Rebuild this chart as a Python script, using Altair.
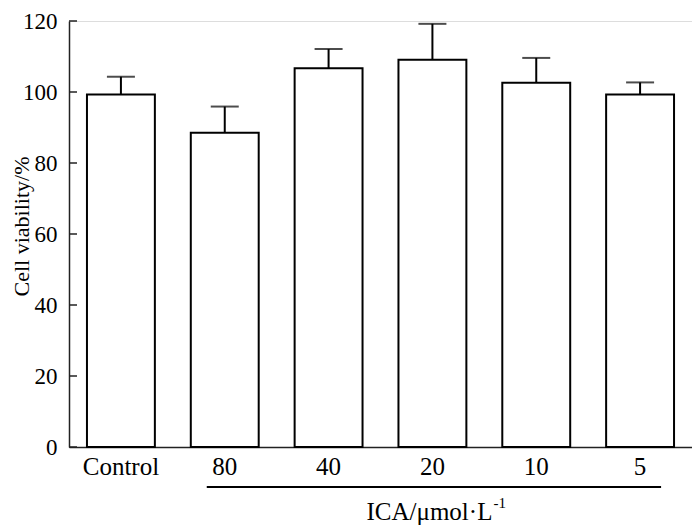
import altair as alt
import pandas as pd

categories = ["Control", "80", "40", "20", "10", "5"]
means = [99.3, 88.5, 106.7, 109.1, 102.6, 99.3]
errors = [5.0, 7.4, 5.4, 10.1, 7.0, 3.4]
y_ticks = [0, 20, 40, 60, 80, 100, 120]
bracket_from = ["80"]
bracket_to = ["5"]
title_anchor = ["20"]
x_title = ["ICA/μmol·L"]
x_title_sup = ["-1"]
y_title = "Cell viability/%"

df = pd.DataFrame({"group": categories, "mean": means, "err": errors})
df["upper"] = df["mean"] + df["err"]
ticks_df = pd.DataFrame({"t": y_ticks})
bracket_df = pd.DataFrame({"a": bracket_from, "b": bracket_to})
title_df = pd.DataFrame({"g": title_anchor, "txt": x_title, "sup": x_title_sup})

W, H = 623, 426
FONT = "Liberation Serif"
AX = "#222222"

xscale = alt.Scale(domain=categories, paddingInner=0.346, paddingOuter=0.173)


def xenc(field):
    return alt.X(field, type="nominal", sort=categories, scale=xscale, title=None)


yscale = alt.Scale(domain=[0, 120], nice=False)

bars = alt.Chart(df).mark_bar(fill="white", stroke="black", strokeWidth=2).encode(
    x=alt.X("group:N", sort=categories, scale=xscale, title=None,
            axis=alt.Axis(labelAngle=0, ticks=False, labelPadding=7, labelFontSize=25,
                          labelFont=FONT)),
    y=alt.Y("mean:Q", scale=yscale, title=y_title,
            axis=alt.Axis(values=y_ticks, ticks=False, labelPadding=12, labelFontSize=23,
                          labelFont=FONT,
                          titleX=-36, titleY=H / 2 - 8, titleBaseline="bottom",
                          titleAngle=270, titleAlign="center")),
)

err_rule = alt.Chart(df).mark_rule(color="black", strokeWidth=2).encode(
    x=xenc("group"),
    y=alt.Y("mean:Q", scale=yscale, title=y_title),
    y2="upper:Q",
)

caps = alt.Chart(df).mark_tick(color="black", thickness=2, size=28).encode(
    x=xenc("group"),
    y=alt.Y("upper:Q", scale=yscale, title=y_title),
)

yticks = alt.Chart(ticks_df).mark_rule(color=AX, strokeWidth=1.5).encode(
    y=alt.Y("t:Q", scale=yscale, title=y_title),
    x=alt.value(0),
    x2=alt.value(8),
)

bracket = alt.Chart(bracket_df).mark_rule(color="black", strokeWidth=2, xOffset=-18, x2Offset=21).encode(
    x=xenc("a"),
    x2="b:N",
    y=alt.value(H + 40),
)

title_main = alt.Chart(title_df).mark_text(
    align="right", baseline="alphabetic", font=FONT, fontSize=25, color="black", dx=60
).encode(x=xenc("g"), y=alt.value(H + 73), text="txt:N")

title_sup = alt.Chart(title_df).mark_text(
    align="left", baseline="alphabetic", font=FONT, fontSize=15, color="black", dx=61
).encode(x=xenc("g"), y=alt.value(H + 61), text="sup:N")

chart = alt.layer(bars, err_rule, caps, yticks, bracket, title_main, title_sup).properties(
    width=W,
    height=H,
    autosize=alt.AutoSizeParams(type="none"),
    padding={"left": 61, "top": 13, "right": 0, "bottom": 80},
).configure_view(stroke=None).configure(background="white", font=FONT).configure_axis(
    labelFont=FONT, titleFont=FONT, labelColor="black", titleColor="black",
    titleFontWeight="normal", titleFontSize=22, domainColor=AX, domainWidth=1.5,
    grid=False
)

chart.save("out.html", embed_options={"renderer": "svg", "actions": False})
